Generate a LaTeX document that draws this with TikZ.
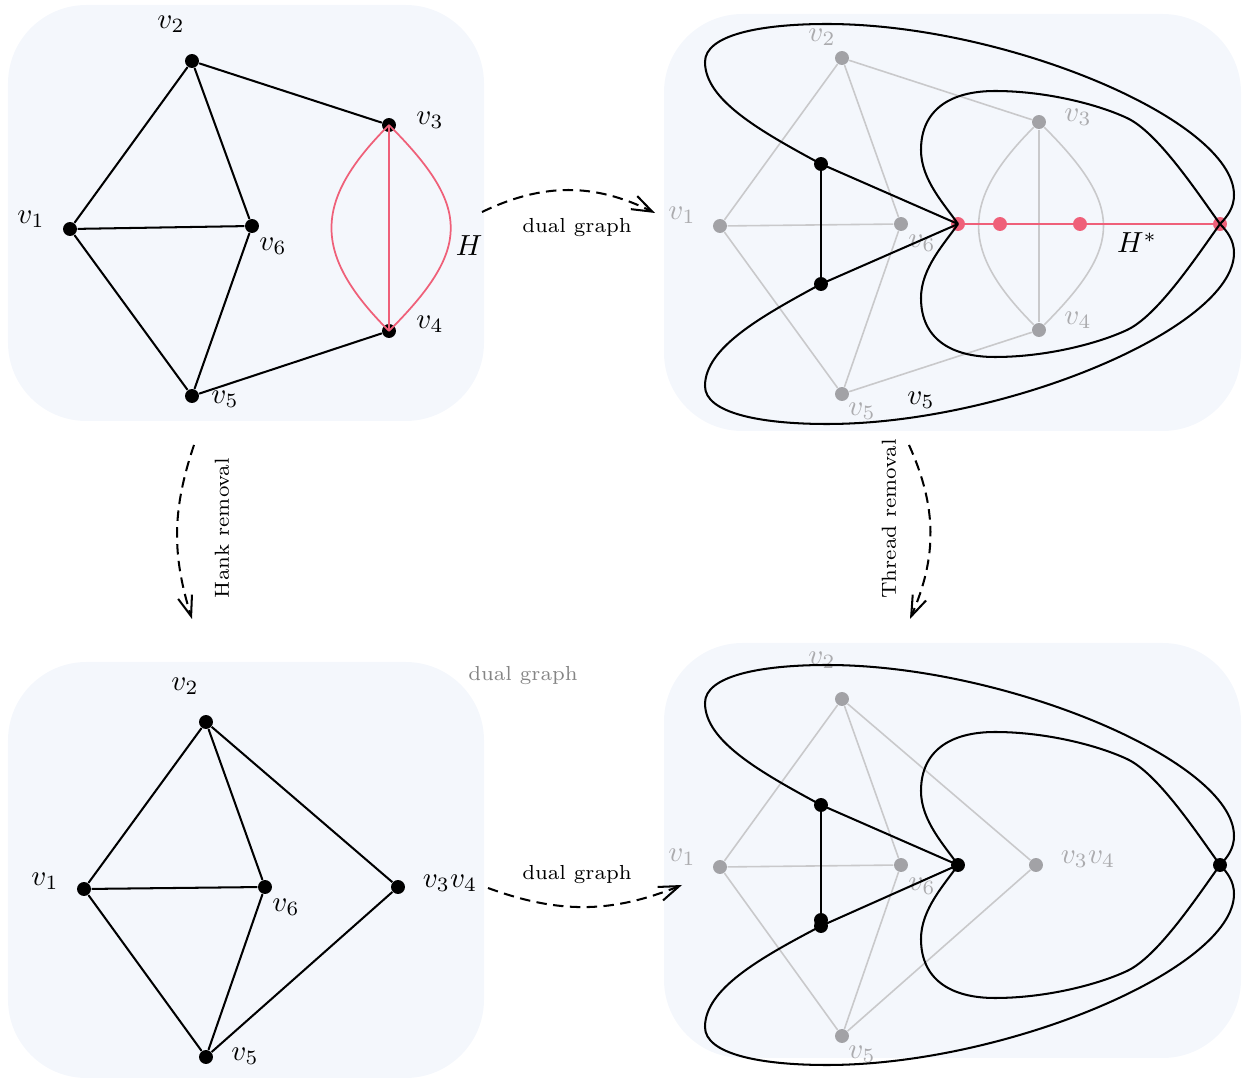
\documentclass[tikz,border=0pt]{standalone}
\usepackage{tikz}
\usepackage{amsmath}
\usepackage{xcolor}
\usetikzlibrary{arrows.meta}
\definecolor{cPanel}{HTML}{F4F7FC}
\definecolor{cHank}{HTML}{EF6079}
\definecolor{cGhostV}{HTML}{A2A2A6}
\definecolor{cGhostE}{HTML}{C9C9CB}
\definecolor{cGhostT}{HTML}{ABABAE}
\definecolor{cNote}{HTML}{858585}
\tikzset{
  panel/.style  ={fill=cPanel, draw=none, rounded corners=27pt},
  vert/.style   ={circle, fill=black, inner sep=0pt, minimum size=4.8pt},
  gvert/.style  ={vert, fill=cGhostV},
  hvert/.style  ={vert, fill=cHank},
  link/.style   ={line width=0.7pt, draw=black},
  glink/.style  ={line width=0.55pt, draw=cGhostE},
  hlink/.style  ={line width=0.6pt, draw=cHank},
  vlabel/.style ={inner sep=1pt},
  glabel/.style ={vlabel, text=cGhostT},
  flow/.style   ={line width=0.7pt, dash pattern=on 3.6pt off 2.2pt,
                  -{Straight Barb[length=7pt,width=5pt]}},
  note/.style   ={font=\scriptsize, inner sep=1pt}
}

\begin{document}
\begin{tikzpicture}[x=0.0121cm, y=-0.0121cm]
  \useasboundingbox (0,0) rectangle (1243,1078);

  % ====================== Panels ======================
  \path[panel] (8,5)     rectangle (484,421);
  \path[panel] (664,14)  rectangle (1241,431);
  \path[panel] (8,662)   rectangle (484,1078);
  \path[panel] (664,643) rectangle (1241,1058);

  % ====================== Graph with hank H (top left) ======================
  \node[vert] (v1) at (70,229)  {};
  \node[vert] (v2) at (192,61)  {};
  \node[vert] (v3) at (389,125) {};
  \node[vert] (v4) at (389,331) {};
  \node[vert] (v5) at (192,396) {};
  \node[vert] (v6) at (252,226) {};

  \draw[link] (v1) -- (v2);
  \draw[link] (v2) -- (v6);
  \draw[link] (v2) -- (v3);
  \draw[link] (v1) -- (v6);
  \draw[link] (v1) -- (v5);
  \draw[link] (v6) -- (v5);
  \draw[link] (v5) -- (v4);

  \draw[hlink] (v3.center) -- (v4.center);
  \draw[hlink] (v3.center) to[out=225, in=135, looseness=1.35] (v4.center);
  \draw[hlink] (v3.center) to[out=-45, in=45,  looseness=1.45] (v4.center);

  \node[vlabel] (l1) at (31,219)  {$v_1$};
  \node[vlabel] (l2) at (171,24)  {$v_2$};
  \node[vlabel] (l3) at (430,120) {$v_3$};
  \node[vlabel] (l4) at (430,324) {$v_4$};
  \node[vlabel] (l5) at (225,399) {$v_5$};
  \node[vlabel] (l6) at (273,246) {$v_6$};
  \node[vlabel] (hname) at (469,246) {$H$};

  % ====================== Dual graph (top right) ======================
  \node[gvert] (g1) at (720,226)  {};
  \node[gvert] (g2) at (842,58)   {};
  \node[gvert] (g3) at (1039,122) {};
  \node[gvert] (g4) at (1039,330) {};
  \node[gvert] (g5) at (842,394)  {};
  \node[gvert] (g6) at (901,224)  {};

  \draw[glink] (g1) -- (g2);
  \draw[glink] (g2) -- (g6);
  \draw[glink] (g2) -- (g3);
  \draw[glink] (g1) -- (g6);
  \draw[glink] (g1) -- (g5);
  \draw[glink] (g6) -- (g5);
  \draw[glink] (g5) -- (g4);
  \draw[glink] (g3) -- (g4);
  \draw[glink] (g3) to[out=225, in=135, looseness=1.35] (g4);
  \draw[glink] (g3) to[out=-45, in=45,  looseness=1.45] (g4);

  \node[glabel] (m1) at (682,215)  {$v_1$};
  \node[glabel] (m2) at (822,37)   {$v_2$};
  \node[glabel] (m3) at (1078,117) {$v_3$};
  \node[glabel] (m4) at (1078,320) {$v_4$};
  \node[glabel] (m5) at (862,411)  {$v_5$};
  \node[glabel] (m6) at (922,243)  {$v_6$};

  \node[hvert] (hc) at (958,224)  {};
  \node[hvert] (hd) at (1000,224) {};
  \node[hvert] (he) at (1080,224) {};
  \node[hvert] (hf) at (1220,224) {};
  \draw[hlink, line width=0.7pt] (hc.center) -- (hf.center);

  \node[vert] (da) at (821,164) {};
  \node[vert] (db) at (821,284) {};
  \draw[link] (da.center) -- (db.center);
  \draw[link] (da.center) -- (hc.center);
  \draw[link] (db.center) -- (hc.center);

  \draw[link] (da.center) .. controls (760,131) and (705,100) .. (705,62)
        .. controls (705,35) and (760,24) .. (827,24)
        .. controls (1005,24) and (1234,120) .. (1234,195)
        .. controls (1234,207) and (1228,216) .. (hf.center);
  \draw[link] (db.center) .. controls (760,317) and (705,348) .. (705,386)
        .. controls (705,413) and (760,424) .. (827,424)
        .. controls (1005,424) and (1234,328) .. (1234,253)
        .. controls (1234,241) and (1228,232) .. (hf.center);
  \draw[link] (hc.center) .. controls (945,205) and (921,180) .. (921,150)
        .. controls (921,110) and (950,91) .. (995,91)
        .. controls (1045,91) and (1097,104) .. (1127,118)
        .. controls (1157,132) and (1195,189) .. (hf.center);
  \draw[link] (hc.center) .. controls (945,243) and (921,268) .. (921,298)
        .. controls (921,338) and (950,357) .. (995,357)
        .. controls (1045,357) and (1097,344) .. (1127,330)
        .. controls (1157,316) and (1195,259) .. (hf.center);

  \node[vlabel] (fout) at (921,400) {$v_5$};
  \node[vlabel] (hstar) at (1137,243) {$H^*$};

  % ====================== After hank removal (bottom left) ======================
  \node[vert] (w1)  at (84,889)  {};
  \node[vert] (w2)  at (206,722) {};
  \node[vert] (w34) at (398,887) {};
  \node[vert] (w5)  at (206,1057) {};
  \node[vert] (w6)  at (265,887) {};

  \draw[link] (w1) -- (w2);
  \draw[link] (w2) -- (w6);
  \draw[link] (w2) -- (w34);
  \draw[link] (w1) -- (w6);
  \draw[link] (w1) -- (w5);
  \draw[link] (w6) -- (w5);
  \draw[link] (w5) -- (w34);

  \node[vlabel] (n1)  at (45,881)   {$v_1$};
  \node[vlabel] (n2)  at (185,686)  {$v_2$};
  \node[vlabel] (n34) at (450,883)  {$v_3v_4$};
  \node[vlabel] (n5)  at (245,1056) {$v_5$};
  \node[vlabel] (n6)  at (286,907)  {$v_6$};

  % ====================== Dual after thread removal (bottom right) ======================
  \begin{scope}[shift={(0,641)}]
    \node[gvert] (q1)  at (720,226)  {};
    \node[gvert] (q2)  at (842,58)   {};
    \node[gvert] (q34) at (1036,224) {};
    \node[gvert] (q5)  at (842,395)  {};
    \node[gvert] (q6)  at (901,224)  {};

    \draw[glink] (q1) -- (q2);
    \draw[glink] (q2) -- (q6);
    \draw[glink] (q2) -- (q34);
    \draw[glink] (q1) -- (q6);
    \draw[glink] (q1) -- (q5);
    \draw[glink] (q6) -- (q5);
    \draw[glink] (q5) -- (q34);

    \node[glabel] (k1)  at (682,216)  {$v_1$};
    \node[glabel] (k2)  at (822,19)   {$v_2$};
    \node[glabel] (k34) at (1088,218) {$v_3v_4$};
    \node[glabel] (k5)  at (862,413)  {$v_5$};
    \node[glabel] (k6)  at (922,245)  {$v_6$};

    \node[vert] (pa)  at (821,164)  {};
    \node[vert] (pb)  at (821,279)  {};
    \node[vert] (pbb) at (821,285)  {};
    \node[vert] (pc)  at (958,224)  {};
    \node[vert] (pf)  at (1220,224) {};
    \draw[link] (pa.center) -- (pb.center);
    \draw[link] (pa.center) -- (pc.center);
    \draw[link] (pbb.center) -- (pc.center);

    \draw[link] (pa.center) .. controls (760,131) and (705,100) .. (705,62)
          .. controls (705,35) and (760,24) .. (827,24)
          .. controls (1005,24) and (1234,120) .. (1234,195)
          .. controls (1234,207) and (1228,216) .. (pf.center);
    \draw[link] (pbb.center) .. controls (760,317) and (705,348) .. (705,386)
          .. controls (705,413) and (760,424) .. (827,424)
          .. controls (1005,424) and (1234,328) .. (1234,253)
          .. controls (1234,241) and (1228,232) .. (pf.center);
    \draw[link] (pc.center) .. controls (945,205) and (921,180) .. (921,150)
          .. controls (921,110) and (950,91) .. (995,91)
          .. controls (1045,91) and (1097,104) .. (1127,118)
          .. controls (1157,132) and (1195,189) .. (pf.center);
    \draw[link] (pc.center) .. controls (945,243) and (921,268) .. (921,298)
          .. controls (921,338) and (950,357) .. (995,357)
          .. controls (1045,357) and (1097,344) .. (1127,330)
          .. controls (1157,316) and (1195,259) .. (pf.center);
  \end{scope}

  % ====================== Transitions ======================
  \coordinate (dA) at (482,212);
  \coordinate (dB) at (655,213);
  \draw[flow] (dA) to[bend left=26] (dB);
  \node[note] (dualA) at (577,228) {dual graph};

  \coordinate (hA) at (194,445);
  \coordinate (hB) at (192,619);
  \draw[flow] (hA) to[bend right=18] (hB);
  \node[note, rotate=90] (hank) at (222,528) {Hank removal};

  \coordinate (tA) at (909,445);
  \coordinate (tB) at (910,619);
  \draw[flow] (tA) to[bend left=24] (tB);
  \node[note, rotate=90] (thread) at (889,519) {Thread removal};

  \coordinate (bA) at (488,888);
  \coordinate (bB) at (682,885);
  \draw[flow] (bA) to[bend right=21] (bB);
  \node[note] (dualB) at (577,875) {dual graph};

  \node[note, text=cNote] (dualC) at (523,676) {dual graph};

\end{tikzpicture}
\end{document}
